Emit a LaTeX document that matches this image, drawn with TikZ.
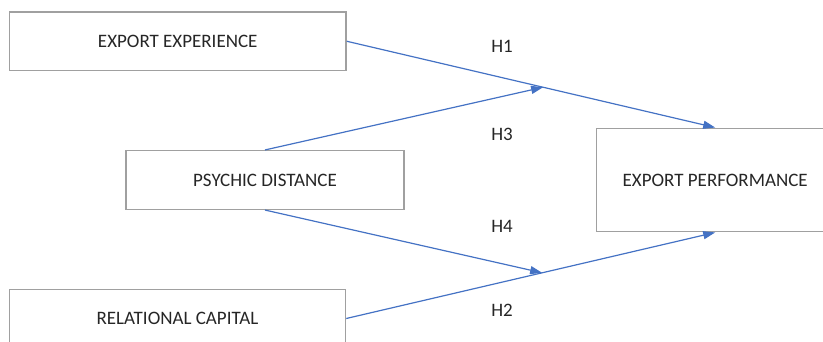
\documentclass[tikz,border=0pt]{standalone}
\usepackage{fontspec}
\setmainfont{Carlito}
\usetikzlibrary{arrows.meta,calc}
\definecolor{linkblue}{HTML}{4472C4}
\definecolor{boxgray}{HTML}{A0A0A0}
\definecolor{txt}{HTML}{262626}
\tikzset{
  factor/.style={draw=boxgray, line width=1.5pt, fill=white, text=txt,
    inner sep=0pt, font=\fontsize{19}{22}\selectfont},
  hyp/.style={text=txt, inner sep=0pt, font=\fontsize{19}{22}\selectfont},
  link/.style={draw=linkblue, line width=1.2pt,
    -{Triangle[length=12pt,width=8pt]}, shorten >=0pt}
}
\begin{document}
\begin{tikzpicture}[x=1pt,y=-1pt]
  \useasboundingbox (0,0) rectangle (823,342);
  \clip (0,0) rectangle (823,342);

  % constructs
  \node[factor, minimum width=336.5pt, minimum height=58.5pt] (ee) at (177.75,41.25) {EXPORT EXPERIENCE};
  \node[factor, minimum width=278pt, minimum height=58.6pt] (pd) at (265,180) {PSYCHIC DISTANCE};
  \node[factor, minimum width=336pt, minimum height=58.5pt] (rc) at (177.5,318.5) {RELATIONAL CAPITAL};
  \node[factor, minimum width=237pt, minimum height=103.4pt] (ep) at (715.2,180) {EXPORT PERFORMANCE};

  % moderation points on the direct paths
  \coordinate (m1) at ($(ee.east)!0.533!(ep.north)$);
  \coordinate (m2) at ($(rc.east)!0.531!(ep.south)$);

  % paths
  \draw[link] (ee.east) -- (ep.north);
  \draw[link] (rc.east) -- (ep.south);
  \draw[link] (pd.north) -- (m1);
  \draw[link] (pd.south) -- (m2);

  % hypothesis labels
  \node[hyp] (h1) at (502,46.7) {H1};
  \node[hyp] (h3) at (502,134.3) {H3};
  \node[hyp] (h4) at (502,226) {H4};
  \node[hyp] (h2) at (502,310.7) {H2};
\end{tikzpicture}
\end{document}
